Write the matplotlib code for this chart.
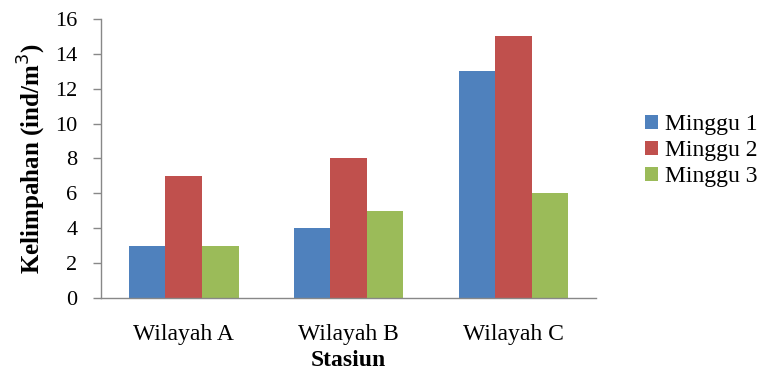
import matplotlib
matplotlib.use("Agg")
import matplotlib.pyplot as plt
import numpy as np

plt.rcParams['font.family'] = ['Liberation Serif', 'DejaVu Serif']

categories = ["Wilayah A", "Wilayah B", "Wilayah C"]
series_names = ["Minggu 1", "Minggu 2", "Minggu 3"]
minggu1 = [3, 4, 13]
minggu2 = [7, 8, 15]
minggu3 = [3, 5, 6]
colors = ["#4F81BD", "#C0504D", "#9BBB59"]
yticks = [0, 2, 4, 6, 8, 10, 12, 14, 16]

fig = plt.figure(figsize=(7.66, 3.72), dpi=100)
ax = fig.add_axes([0.132, 0.199, 0.646, 0.750])

x = np.arange(len(categories))
width = 0.222
for i, (vals, name, c) in enumerate(zip([minggu1, minggu2, minggu3], series_names, colors)):
    ax.bar(x + (i - 1) * width, vals, width, color=c, label=name, edgecolor='none')

ax.set_xlim(-0.5, 2.5)
ax.set_ylim(0, 16)
ax.set_yticks(yticks)
ax.set_yticklabels([str(t) for t in yticks], fontsize=16)
ax.set_xticks(x)
ax.set_xticklabels(categories, fontsize=17)
ax.tick_params(axis='x', length=0, pad=19)
ax.tick_params(axis='y', length=6, width=1, color='#888888', pad=11, direction='out')

for s in ['top', 'right']:
    ax.spines[s].set_visible(False)
for s in ['left', 'bottom']:
    ax.spines[s].set_color('#888888')
    ax.spines[s].set_linewidth(1.0)

ax.set_ylabel("Kelimpahan (ind/m$^3$)", fontsize=18, fontweight='bold', va='center')
ax.yaxis.set_label_coords(-0.140, 0.5)
ax.set_xlabel("Stasiun", fontsize=17, fontweight='bold', va='center')
ax.xaxis.set_label_coords(0.5, -0.225)

fig.legend(loc='center left', bbox_to_anchor=(0.83, 0.595), frameon=False,
           fontsize=17, handlelength=0.55, handleheight=0.55, handletextpad=0.3,
           labelspacing=0.22, borderaxespad=0)

fig.savefig("out.png", dpi=100)
